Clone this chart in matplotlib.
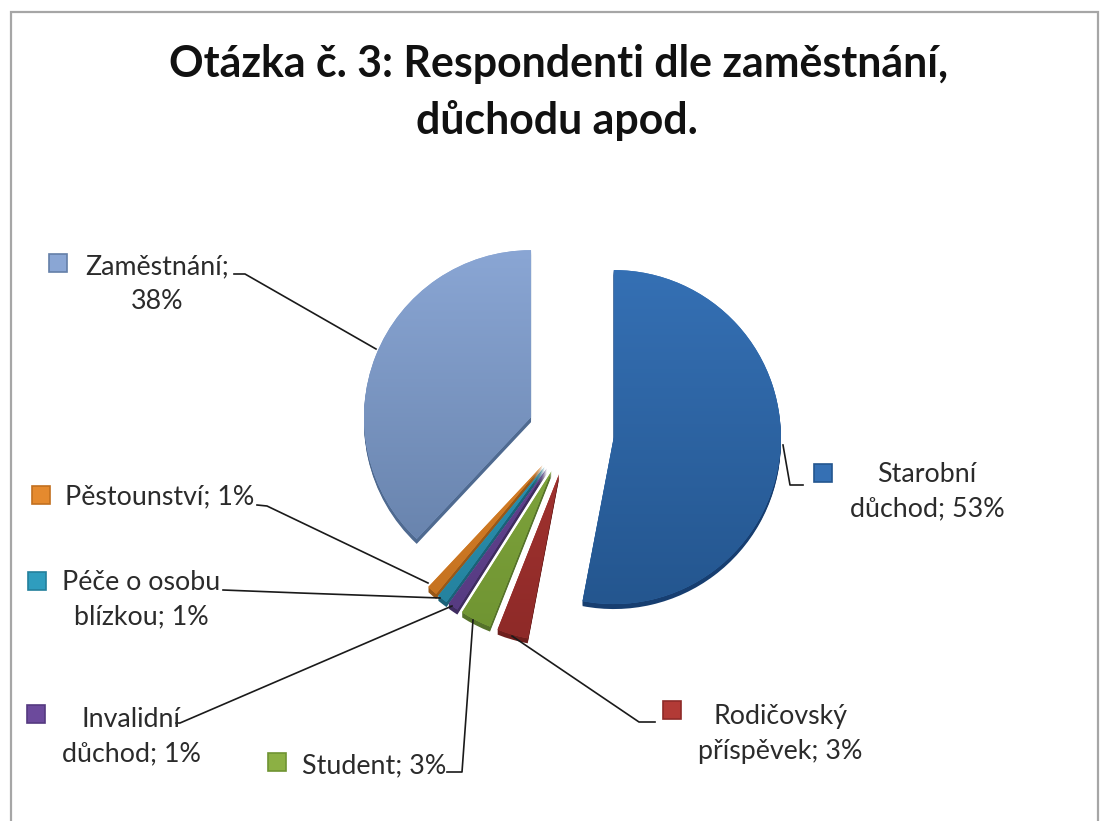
import numpy as np
import matplotlib
matplotlib.use("Agg")
import matplotlib.pyplot as plt
from matplotlib.patches import Wedge, Rectangle
from matplotlib.colors import LinearSegmentedColormap

W, H = 1100, 821
plt.rcParams['font.family'] = ['Lato', 'DejaVu Sans']

categories = ["Starobní důchod", "Rodičovský příspěvek", "Student", "Invalidní důchod",
              "Péče o osobu blízkou", "Pěstounství", "Zaměstnání"]
values = [53, 3, 3, 1, 1, 1, 38]
labels = ["Starobní\ndůchod; 53%", "Rodičovský\npříspěvek; 3%", "Student; 3%", "Invalidní\ndůchod; 1%",
          "Péče o osobu\nblízkou; 1%", "Pěstounství; 1%", "Zaměstnání;\n38%"]
top_colors = ["#3570B4", "#B23A36", "#8CB044", "#6C4A9C", "#2F9DBE", "#E58A2E", "#8AA6D4"]
low_colors = ["#24568F", "#8E2A28", "#6F9432", "#553A80", "#24809C", "#C2701F", "#647FA8"]
side_colors = ["#173E70", "#6E1F1D", "#55722A", "#3F2C60", "#1B6278", "#985818", "#4F6A90"]

# label anchor, marker position, leader-line path (pixels in the reference image)
label_xy = [(927, 492), (780, 734), (374, 766), (131, 737), (141, 600), (160, 497), (157, 284)]
marker_xy = [(823, 473), (672, 710), (277, 762), (36, 714), (37, 581), (41, 495), (58, 263)]
leaders = [
    [(783, 445), (790, 485), (803, 485)],
    [(512, 636), (639, 722), (655, 722)],
    [(473, 620), (462, 772), (447, 772)],
    [(452, 606), (180, 723), (176, 723)],
    [(440, 598), (300, 593), (223, 590)],
    [(428, 583), (267, 506), (257, 505)],
    [(376, 349), (245, 274), (234, 274)],
]

fig = plt.figure(figsize=(W / 100, H / 100), dpi=100, facecolor="white")
ax = fig.add_axes([0, 0, 1, 1])

cx, cy, R, EXP = 571, 433, 167, 43
wedges, _ = ax.pie(values, explode=[EXP] * len(values), startangle=90, counterclock=False,
                   center=(cx, H - cy), radius=R, frame=True, colors=top_colors)
ax.set_xlim(0, W)
ax.set_ylim(0, H)
ax.set_aspect("equal")
ax.axis("off")

# Extruded side and vertical gradient for each slice
for w, top, low, side in zip(wedges, top_colors, low_colors, side_colors):
    w.set_zorder(3)
    w.set_linewidth(0)
    for dy in (1, 2, 3, 4, 5):
        ax.add_patch(Wedge((w.center[0], w.center[1] - dy), w.r, w.theta1, w.theta2,
                           fc=side, ec="none", zorder=2))
    y0 = w.center[1] - R
    y1 = w.center[1] + R
    cmap = LinearSegmentedColormap.from_list("g", [low, top])
    im = ax.imshow(np.linspace(0, 1, 256)[:, None], origin="lower", cmap=cmap, aspect="auto",
                   extent=(w.center[0] - R, w.center[0] + R, y0, y1), zorder=4)
    im.set_clip_path(w)
ax.set_xlim(0, W)
ax.set_ylim(0, H)

# Frame of the chart
ax.add_patch(Rectangle((11, -5), 1087, H - 12 + 5, fc="none", ec="#A6A6A6", lw=1.6, zorder=1))

ax.text(559, H - 64, "Otázka č. 3: Respondenti dle zaměstnání,", ha="center", va="center",
        fontsize=30.9, fontweight="bold", color="#111111")
ax.text(557, H - 120, "důchodu apod.", ha="center", va="center",
        fontsize=30.9, fontweight="bold", color="#111111")

for lab, (lx, ly), (mx, my), path, top, low in zip(labels, label_xy, marker_xy, leaders, top_colors, low_colors):
    ax.text(lx, H - ly, lab, ha="center", va="center", fontsize=19.3, color="#2b2b2b", linespacing=1.48, zorder=6)
    ax.plot([mx], [H - my], marker="s", ms=12.5, mfc=top, mec=low, mew=1.2, zorder=6)
    ax.plot([p[0] for p in path], [H - p[1] for p in path], color="#1a1a1a", lw=1.2, zorder=5)

fig.savefig("out.png", dpi=100)
